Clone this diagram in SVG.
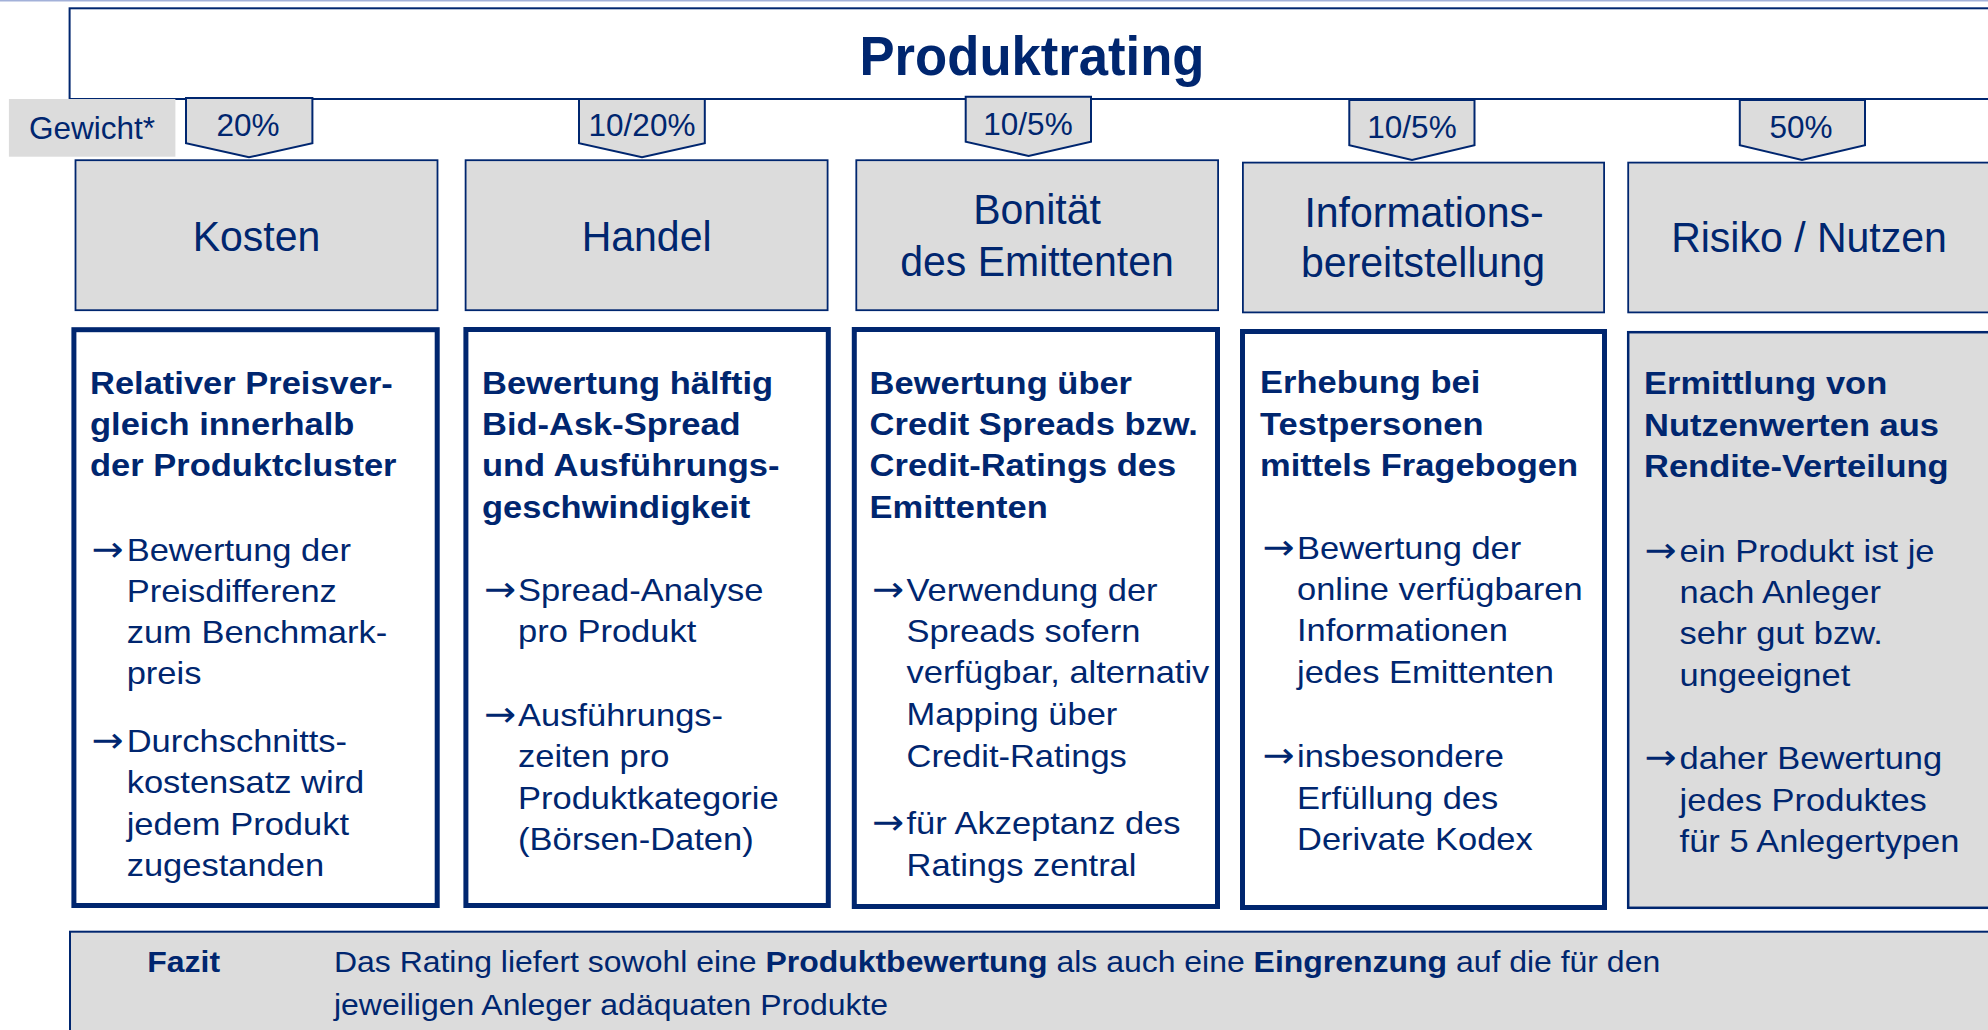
<svg xmlns="http://www.w3.org/2000/svg" width="1988" height="1030" viewBox="0 0 1988 1030">
  <style>
    text { font-family: "Liberation Sans", Arial, Helvetica, sans-serif; fill: #00266F; }
    .title { font-size: 56px; font-weight: bold; text-anchor: middle; }
    .head { font-size: 42.5px; text-anchor: middle; }
    .pct { font-size: 31.5px; text-anchor: middle; }
    .gew { font-size: 31.5px; }
    .b { font-size: 31.5px; font-weight: bold; }
    .r { font-size: 31.5px; }
    .ar { font-family: "DejaVu Sans", sans-serif; font-size: 35px; }
    .faz { font-size: 30px; }
    .bold { font-weight: bold; }
    .frame { fill: #FFFFFF; stroke: #00266F; stroke-width: 2; }
    .tab { fill: #DCDCDC; stroke: #00266F; stroke-width: 2; stroke-linejoin: miter; }
    .hbox { fill: #DCDCDC; stroke: #00266F; stroke-width: 1.8; }
    .dbox { fill: #FFFFFF; stroke: #00266F; stroke-width: 5; }
    .dbox-g { fill: #DCDCDC; stroke: #00266F; stroke-width: 2.5; }
    .fbox { fill: #DCDCDC; stroke: #00266F; stroke-width: 2; }
  </style>

  <rect x="0" y="0" width="1988" height="1030" fill="#FFFFFF"/>
  <!-- thin rule along the top edge -->
  <line x1="0" y1="0.8" x2="1988" y2="0.8" stroke="#A3B1D9" stroke-width="1.6"/>

  <!-- title frame -->
  <g id="title">
    <rect class="frame" x="69.6" y="8.3" width="2000" height="90.7"/>
    <text class="title" transform="translate(1032,75) scale(0.94,1)" x="0" y="0">Produktrating</text>
  </g>

  <!-- weight label -->
  <g id="gewicht">
    <rect x="8.9" y="99" width="166.5" height="57.7" fill="#DCDCDC"/>
    <text class="gew" x="29" y="139.3">Gewicht*</text>
  </g>

  <!-- weight tabs -->
  <g id="weights">
    <g id="w-kosten">
      <polygon class="tab" points="186,98 312.4,98 312.4,143.3 249,157.3 186,143.3"/>
      <text class="pct" x="248" y="136">20%</text>
    </g>
    <g id="w-handel">
      <polygon class="tab" points="579,99 704.8,99 704.8,143.3 642,157.3 579,143.3"/>
      <text class="pct" x="642" y="136">10/20%</text>
    </g>
    <g id="w-bonitaet">
      <polygon class="tab" points="965.7,96.7 1091,96.7 1091,141.7 1028.6,156 965.7,141.7"/>
      <text class="pct" x="1028" y="135">10/5%</text>
    </g>
    <g id="w-info">
      <polygon class="tab" points="1349.3,100 1474.5,100 1474.5,145.3 1412,160 1349.3,145.3"/>
      <text class="pct" x="1412" y="137.7">10/5%</text>
    </g>
    <g id="w-risiko">
      <polygon class="tab" points="1739.8,100 1865,100 1865,145.3 1802,160 1739.8,145.3"/>
      <text class="pct" x="1801" y="138">50%</text>
    </g>
  </g>

  <!-- category headers -->
  <g id="h-kosten">
    <rect class="hbox" x="75.5" y="160.2" width="362" height="150"/>
    <text class="head" transform="translate(256.5,250.7) scale(0.965,1)">Kosten</text>
  </g>
  <g id="h-handel">
    <rect class="hbox" x="465.6" y="160.2" width="362" height="150"/>
    <text class="head" transform="translate(646.6,251) scale(0.965,1)">Handel</text>
  </g>
  <g id="h-bonitaet">
    <rect class="hbox" x="856.3" y="160.2" width="361.8" height="150"/>
    <text class="head" transform="translate(1037,224) scale(0.965,1)">Bonität</text>
    <text class="head" transform="translate(1037,276) scale(0.965,1)">des Emittenten</text>
  </g>
  <g id="h-info">
    <rect class="hbox" x="1242.9" y="162.6" width="361.2" height="149.8"/>
    <text class="head" transform="translate(1424,226.7) scale(0.965,1)">Informations-</text>
    <text class="head" transform="translate(1423,276.7) scale(0.965,1)">bereitstellung</text>
  </g>
  <g id="h-risiko">
    <rect class="hbox" x="1628.2" y="162.6" width="420" height="149.8"/>
    <text class="head" transform="translate(1809,252) scale(0.965,1)">Risiko / Nutzen</text>
  </g>

  <!-- detail boxes -->
  <g id="d-kosten">
    <rect class="dbox" x="73.9" y="329.7" width="363.3" height="575.8"/>
    <g transform="translate(90,0) scale(1.095,1)">
      <text class="b"><tspan x="0" y="394">Relativer Preisver-</tspan><tspan x="0" y="435.5">gleich innerhalb</tspan><tspan x="0" y="476.5">der Produktcluster</tspan></text>
      <text class="ar" x="1.4" y="560.7">→</text>
      <text class="r"><tspan x="33.5" y="560.7">Bewertung der</tspan><tspan x="33.5" y="602">Preisdifferenz</tspan><tspan x="33.5" y="643.5">zum Benchmark-</tspan><tspan x="33.5" y="684.5">preis</tspan></text>
      <text class="ar" x="1.4" y="752">→</text>
      <text class="r"><tspan x="33.5" y="752">Durchschnitts-</tspan><tspan x="33.5" y="793.3">kostensatz wird</tspan><tspan x="33.5" y="834.8">jedem Produkt</tspan><tspan x="33.5" y="876.4">zugestanden</tspan></text>
    </g>
  </g>

  <g id="d-handel">
    <rect class="dbox" x="465.9" y="329.5" width="362.4" height="576"/>
    <g transform="translate(482,0) scale(1.095,1)">
      <text class="b"><tspan x="0" y="394">Bewertung hälftig</tspan><tspan x="0" y="435.5">Bid-Ask-Spread</tspan><tspan x="0" y="476.5">und Ausführungs-</tspan><tspan x="0" y="518">geschwindigkeit</tspan></text>
      <text class="ar" x="1.8" y="601">→</text>
      <text class="r"><tspan x="32.9" y="601">Spread-Analyse</tspan><tspan x="32.9" y="642.2">pro Produkt</tspan></text>
      <text class="ar" x="1.8" y="726">→</text>
      <text class="r"><tspan x="32.9" y="726">Ausführungs-</tspan><tspan x="32.9" y="767.3">zeiten pro</tspan><tspan x="32.9" y="808.6">Produktkategorie</tspan><tspan x="32.9" y="849.6">(Börsen-Daten)</tspan></text>
    </g>
  </g>

  <g id="d-bonitaet">
    <rect class="dbox" x="854.3" y="329.5" width="363.2" height="577"/>
    <g transform="translate(869.6,0) scale(1.095,1)">
      <text class="b"><tspan x="0" y="394">Bewertung über</tspan><tspan x="0" y="435.5">Credit Spreads bzw.</tspan><tspan x="0" y="476.5">Credit-Ratings des</tspan><tspan x="0" y="518">Emittenten</tspan></text>
      <text class="ar" x="2.2" y="601">→</text>
      <text class="r"><tspan x="33.7" y="601">Verwendung der</tspan><tspan x="33.7" y="642.2">Spreads sofern</tspan><tspan x="33.7" y="683.3">verfügbar, alternativ</tspan><tspan x="33.7" y="725.2">Mapping über</tspan><tspan x="33.7" y="767.3">Credit-Ratings</tspan></text>
      <text class="ar" x="2.2" y="834.3">→</text>
      <text class="r"><tspan x="33.7" y="834.3">für Akzeptanz des</tspan><tspan x="33.7" y="875.6">Ratings zentral</tspan></text>
    </g>
  </g>

  <g id="d-info">
    <rect class="dbox" x="1242.5" y="331.5" width="362" height="576"/>
    <g transform="translate(1260,0) scale(1.095,1)">
      <text class="b"><tspan x="0" y="393.5">Erhebung bei</tspan><tspan x="0" y="434.8">Testpersonen</tspan><tspan x="0" y="475.8">mittels Fragebogen</tspan></text>
      <text class="ar" x="2.3" y="559">→</text>
      <text class="r"><tspan x="33.8" y="559">Bewertung der</tspan><tspan x="33.8" y="600.2">online verfügbaren</tspan><tspan x="33.8" y="641.5">Informationen</tspan><tspan x="33.8" y="683">jedes Emittenten</tspan></text>
      <text class="ar" x="2.3" y="767.3">→</text>
      <text class="r"><tspan x="33.8" y="767.3">insbesondere</tspan><tspan x="33.8" y="808.6">Erfüllung des</tspan><tspan x="33.8" y="849.6">Derivate Kodex</tspan></text>
    </g>
  </g>

  <g id="d-risiko">
    <rect class="dbox-g" x="1628.2" y="332.2" width="420" height="575.6"/>
    <g transform="translate(1644,0) scale(1.095,1)">
      <text class="b"><tspan x="0" y="394.5">Ermittlung von</tspan><tspan x="0" y="436">Nutzenwerten aus</tspan><tspan x="0" y="477">Rendite-Verteilung</tspan></text>
      <text class="ar" x="0.4" y="562">→</text>
      <text class="r"><tspan x="32.5" y="562">ein Produkt ist je</tspan><tspan x="32.5" y="603">nach Anleger</tspan><tspan x="32.5" y="644.5">sehr gut bzw.</tspan><tspan x="32.5" y="686">ungeeignet</tspan></text>
      <text class="ar" x="0.4" y="769.2">→</text>
      <text class="r"><tspan x="32.5" y="769.2">daher Bewertung</tspan><tspan x="32.5" y="810.6">jedes Produktes</tspan><tspan x="32.5" y="852.2">für 5 Anlegertypen</tspan></text>
    </g>
  </g>

  <!-- conclusion bar -->
  <g id="fazit">
    <rect class="fbox" x="70" y="931.7" width="2000" height="200"/>
    <g transform="scale(1.065,1)">
      <text class="faz bold" x="138.3" y="972.3">Fazit</text>
      <text class="faz"><tspan x="313.6" y="972.3">Das Rating liefert sowohl eine </tspan><tspan class="bold">Produktbewertung</tspan><tspan> als auch eine </tspan><tspan class="bold">Eingrenzung</tspan><tspan> auf die für den</tspan><tspan x="313.6" y="1015.5">jeweiligen Anleger adäquaten Produkte</tspan></text>
    </g>
  </g>

  <!-- no separate connectors: the weight tabs point straight onto their headers -->
  <g id="connectors"/>
</svg>
